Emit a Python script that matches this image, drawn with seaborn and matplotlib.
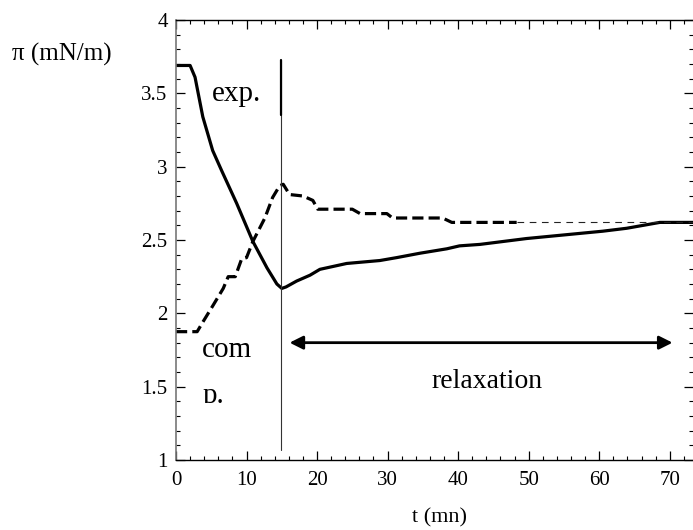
import matplotlib
matplotlib.use("Agg")
import matplotlib.pyplot as plt
import seaborn as sns
import numpy as np
import pandas as pd
from matplotlib.transforms import Bbox, TransformedBbox

# ---- data ----
solid_t = [0, 2.0, 2.7, 3.8, 5.2, 6.5, 8.6, 10.9, 12.9, 14.3, 15.0, 15.6, 17.1, 19.0,
           20.4, 24.2, 28.9, 31.3, 34.6, 38.4, 40.2, 43.1, 49.7, 60.5, 63.9, 68.6, 73.3]
solid_pi = [3.69, 3.69, 3.61, 3.34, 3.11, 2.97, 2.75, 2.49, 2.31, 2.20, 2.17, 2.18, 2.22, 2.26,
            2.30, 2.34, 2.36, 2.38, 2.41, 2.44, 2.46, 2.47, 2.51, 2.56, 2.58, 2.62, 2.62]

dash_t = [0, 3.0, 3.8, 5.2, 6.7, 7.4, 8.4, 9.3, 10.0, 10.9, 12.6, 13.7, 14.7, 15.2, 16.1,
          18.0, 19.4, 20.1, 25.0, 26.1, 29.9, 30.7, 37.8, 39.1, 48.3]
dash_pi = [1.875, 1.875, 1.94, 2.05, 2.17, 2.25, 2.25, 2.37, 2.38, 2.49, 2.65, 2.79, 2.87, 2.88, 2.81,
           2.80, 2.77, 2.71, 2.71, 2.68, 2.68, 2.65, 2.65, 2.62, 2.62]

thin_t = [48.3, 73.3]
thin_pi = [2.62, 2.62]

vline_t = 14.88
vline_thin = [1.07, 3.73]
vline_thick = [3.35, 3.73]

arrow_t = [16.1, 70.4]
arrow_pi = 1.80

x_ticks = [0, 10, 20, 30, 40, 50, 60, 70]
y_ticks = [1, 1.5, 2, 2.5, 3, 3.5, 4]
y_ticklabels = ["1", "1.5", "2", "2.5", "3", "3.5", "4"]

# ---- style ----
sns.set_style("ticks")
plt.rcParams["font.family"] = ["Liberation Serif", "DejaVu Serif"]
plt.rcParams["text.color"] = "black"
plt.rcParams["axes.labelcolor"] = "black"
plt.rcParams["xtick.color"] = "black"
plt.rcParams["ytick.color"] = "black"

fig = plt.figure(figsize=(6.93, 5.30), dpi=100)
ax = fig.add_axes([176 / 693, 1 - 460 / 530, 1 - 176 / 693, (460 - 20) / 530])

df_s = pd.DataFrame({"t": solid_t, "pi": solid_pi})
df_d = pd.DataFrame({"t": dash_t, "pi": dash_pi})
df_th = pd.DataFrame({"t": thin_t, "pi": thin_pi})

sns.lineplot(data=df_s, x="t", y="pi", ax=ax, color="black", lw=2.3, sort=False,
             estimator=None)
sns.lineplot(data=df_d, x="t", y="pi", ax=ax, color="black", lw=2.3, sort=False,
             estimator=None)
ax.lines[-1].set_dashes((3.5, 1.6))
sns.lineplot(data=df_th, x="t", y="pi", ax=ax, color="#222222", lw=0.8, sort=False,
             estimator=None)
ax.lines[-1].set_dashes((6, 5))

ax.plot([vline_t, vline_t], vline_thin, color="#333333", lw=0.8)
ax.plot([vline_t, vline_t], vline_thick, color="black", lw=1.6)

ax.annotate("", xy=(arrow_t[1], arrow_pi), xytext=(arrow_t[0], arrow_pi),
            arrowprops=dict(arrowstyle="<|-|>", lw=2.0, color="black",
                            mutation_scale=20, shrinkA=0, shrinkB=0))

ax.text(5.1, 3.45, "exp.", fontsize=21, ha="left", va="baseline", color="black")
ax.text(3.7, 1.70, "com", fontsize=21, ha="left", va="baseline", color="black")
tp = ax.text(3.7, 1.39, "p.", fontsize=21, ha="left", va="baseline", color="black")
tp.set_clip_box(TransformedBbox(Bbox([[0, 1.39], [20, 2.0]]), ax.transData))
tp.set_clip_on(True)
ax.text(44.1, 1.49, "relaxation", fontsize=20, ha="center", va="baseline", color="black")

ax.set_xlim(0, 73.3)
ax.set_ylim(1, 4)
ax.set_xticks(x_ticks)
ax.set_xticks(np.arange(0, 73.3, 2), minor=True)
ax.set_yticks(y_ticks)
ax.set_yticklabels(y_ticklabels)
ax.set_yticks(np.arange(1, 4.01, 0.1), minor=True)
ax.tick_params(axis="both", which="both", direction="in", top=True, right=True,
               colors="black", labelcolor="black", labelsize=15)
ax.tick_params(axis="both", which="major", length=6.5, width=0.9)
ax.tick_params(axis="both", which="minor", length=3.2, width=0.8)
ax.tick_params(axis="x", which="major", pad=8)
ax.tick_params(axis="y", which="major", pad=6)
ax.set_xlabel("")
ax.set_ylabel("")
for side in ["top", "bottom"]:
    ax.spines[side].set_visible(True)
    ax.spines[side].set_color("black")
    ax.spines[side].set_linewidth(1.0)
ax.spines["right"].set_visible(False)
ax.spines["left"].set_color("#777777")
ax.spines["left"].set_linewidth(1.2)

fig.text(440 / 693, 1 - 518 / 530, "t (mn)", fontsize=16, ha="center", va="center",
         color="black")
fig.text(12 / 693, 1 - 54 / 530, "π (mN/m)", fontsize=18, ha="left", va="center",
         color="black")

fig.savefig("out.png", dpi=100)
